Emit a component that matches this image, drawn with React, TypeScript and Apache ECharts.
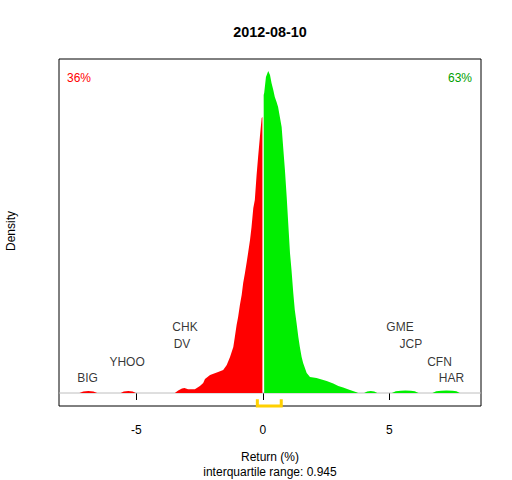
import React, { useEffect, useRef } from "react";
import * as echarts from "echarts";

// Density of returns, negative part (x, density)
const redX = [-7.25, -7.1, -6.9, -6.7, -6.55, -5.62, -5.5, -5.32, -5.15, -5.02,
  -3.48, -3.35, -3.2, -3.1, -2.96, -2.69, -2.49, -2.36, -2.29, -2.09, -1.77, -1.57,
  -1.43, -1.3, -1.17, -1.11, -1.04, -0.98, -0.91, -0.84, -0.78, -0.71, -0.64, -0.58,
  -0.51, -0.45, -0.38, -0.32, -0.25, -0.19, -0.12, -0.05, -0.02];
const redY = [0, 0.003, 0.004, 0.003, 0, 0, 0.003, 0.004, 0.003, 0,
  0, 0.005, 0.009, 0.01, 0.0074, 0.0076, 0.014, 0.02, 0.028, 0.036, 0.042, 0.046,
  0.056, 0.072, 0.092, 0.112, 0.136, 0.152, 0.176, 0.196, 0.22, 0.24, 0.262, 0.282,
  0.306, 0.332, 0.37, 0.386, 0.436, 0.472, 0.512, 0.55, 0.552];

// Density of returns, positive part
const greenX = [0.03, 0.05, 0.12, 0.21, 0.28, 0.34, 0.41, 0.47, 0.54, 0.6, 0.67, 0.74,
  0.8, 0.87, 0.94, 1.0, 1.07, 1.13, 1.2, 1.26, 1.33, 1.4, 1.46, 1.53, 1.59, 1.66, 1.73,
  1.86, 2.12, 2.32, 2.52, 2.78, 2.98, 3.17, 3.44, 3.7, 3.76,
  4.0, 4.12, 4.26, 4.4, 4.52,
  5.1, 5.25, 5.45, 5.63, 5.85, 6.0, 6.15,
  6.7, 6.85, 7.05, 7.25, 7.5, 7.65, 7.78];
const greenY = [0.596, 0.6, 0.632, 0.644, 0.636, 0.62, 0.606, 0.592, 0.582, 0.572, 0.552, 0.532,
  0.492, 0.446, 0.392, 0.34, 0.28, 0.246, 0.2, 0.166, 0.14, 0.112, 0.092, 0.072, 0.06, 0.05, 0.04,
  0.032, 0.03, 0.027, 0.024, 0.019, 0.014, 0.011, 0.006, 0.0016, 0,
  0, 0.003, 0.004, 0.003, 0,
  0, 0.0035, 0.0045, 0.0048, 0.0045, 0.0035, 0,
  0, 0.0035, 0.0046, 0.0048, 0.0044, 0.0035, 0];

// Extreme stocks labels
const stockNames = ["BIG", "YHOO", "CHK", "DV", "GME", "JCP", "CFN", "HAR"];
const stockX = [-6.93, -5.37, -3.08, -3.2, 5.42, 5.85, 6.98, 7.45];
const stockY = [0.0306, 0.0626, 0.1314, 0.0974, 0.1314, 0.0974, 0.0626, 0.0306];

const xTicks = [-5, 0, 5];
const quartiles = [-0.22, 0.725];
const pctDown = "36%";
const pctUp = "63%";
const titleText = "2012-08-10";
const iqrText = "interquartile range: 0.945";

const X_MIN = -8.06;
const X_MAX = 8.62;
const Y_MIN = -0.026;
const Y_MAX = 0.668;

const FONT = "'Liberation Sans', Arial, sans-serif";

export default function App() {
  const ref = useRef<HTMLDivElement>(null);
  useEffect(() => {
    document.body.style.margin = "0";
    if (!ref.current) return;
    const chart = echarts.init(ref.current, undefined, { renderer: "svg" });
    const zip = (xs: number[], ys: number[]) => xs.map((x, i) => [x, ys[i]]);
    const option: any = {
      animation: false,
      backgroundColor: "#ffffff",
      textStyle: { fontFamily: FONT },
      grid: {
        left: 59, top: 59, right: 31, bottom: 74,
        show: true, borderColor: "#000000", borderWidth: 1, backgroundColor: "transparent",
      },
      xAxis: {
        type: "value", min: X_MIN, max: X_MAX,
        axisLine: { show: false },
        splitLine: { show: false },
        axisTick: { show: true, inside: false, length: 7, customValues: xTicks, lineStyle: { color: "#000", width: 1 } },
        axisLabel: { show: true, customValues: xTicks, margin: 18, fontSize: 12, color: "#000", fontFamily: FONT,
          showMinLabel: true, showMaxLabel: true },
      },
      yAxis: {
        type: "value", min: Y_MIN, max: Y_MAX,
        axisLine: { show: false }, axisTick: { show: false }, axisLabel: { show: false }, splitLine: { show: false },
      },
      series: [
        {
          type: "line", data: [[X_MIN, 0], [X_MAX, 0]], showSymbol: false, silent: true,
          lineStyle: { color: "#BEBEBE", width: 1 }, z: 1,
        },
        {
          type: "line", data: zip(redX, redY), showSymbol: false, silent: true,
          lineStyle: { width: 0, opacity: 0 }, itemStyle: { color: "#FF0000" },
          areaStyle: { color: "#FF0000", opacity: 1, origin: 0 }, z: 2,
        },
        {
          type: "line", data: zip(greenX, greenY), showSymbol: false, silent: true,
          lineStyle: { width: 0, opacity: 0 }, itemStyle: { color: "#00EE00" },
          areaStyle: { color: "#00EE00", opacity: 1, origin: 0 }, z: 2,
        },
        {
          type: "line", clip: false, showSymbol: false, silent: true,
          data: [[quartiles[0], -0.0126], [quartiles[0], -0.026], [quartiles[1], -0.026], [quartiles[1], -0.0126]],
          lineStyle: { color: "#FFD000", width: 3, cap: "butt", join: "miter" }, z: 5,
        },
        {
          type: "scatter", symbolSize: 1, silent: true,
          itemStyle: { color: "rgba(0,0,0,0)" },
          data: stockNames.map((n, i) => ({ name: n, value: [stockX[i], stockY[i]] })),
          label: { show: true, position: "inside", formatter: "{b}", color: "#000", fontSize: 12, fontFamily: FONT },
          z: 6,
        },
      ],
      graphic: [
        { type: "text", x: 270, y: 32, style: { text: titleText, font: `bold 14.4px ${FONT}`, fill: "#000", textAlign: "center", textVerticalAlign: "middle" } },
        { type: "text", x: 67, y: 78, style: { text: pctDown, font: `12px ${FONT}`, fill: "#FF0000", textAlign: "left", textVerticalAlign: "middle" } },
        { type: "text", x: 472, y: 78, style: { text: pctUp, font: `12px ${FONT}`, fill: "#00A000", textAlign: "right", textVerticalAlign: "middle" } },
        { type: "text", x: 270, y: 457, style: { text: "Return (%)", font: `12px ${FONT}`, fill: "#000", textAlign: "center", textVerticalAlign: "middle" } },
        { type: "text", x: 270, y: 472, style: { text: iqrText, font: `12px ${FONT}`, fill: "#000", textAlign: "center", textVerticalAlign: "middle" } },
        { type: "text", x: 11, y: 231, rotation: Math.PI / 2, style: { text: "Density", font: `12px ${FONT}`, fill: "#000", textAlign: "center", textVerticalAlign: "middle" } },
      ],
    };
    chart.setOption(option);
    return () => chart.dispose();
  }, []);
  return <div ref={ref} style={{ width: 512, height: 480 }} />;
}
